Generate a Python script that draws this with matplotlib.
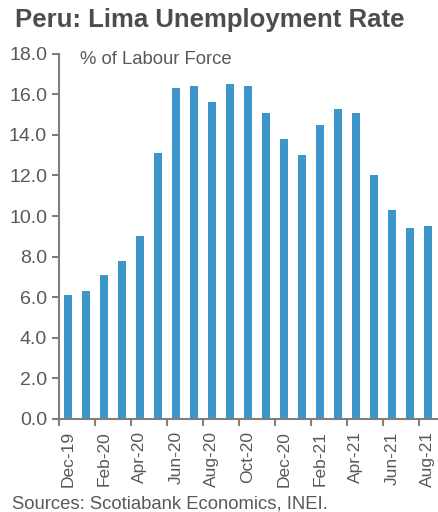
import numpy as np
import matplotlib.pyplot as plt

plt.rcParams['font.family'] = ['Liberation Sans', 'DejaVu Sans']

# Lima unemployment rate, % of labour force
months = ["Dec-19", "Jan-20", "Feb-20", "Mar-20", "Apr-20", "May-20", "Jun-20",
          "Jul-20", "Aug-20", "Sep-20", "Oct-20", "Nov-20", "Dec-20", "Jan-21",
          "Feb-21", "Mar-21", "Apr-21", "May-21", "Jun-21", "Jul-21", "Aug-21"]
rate = [6.1, 6.3, 7.1, 7.8, 9.0, 13.1, 16.3, 16.4, 15.6, 16.5, 16.4, 15.1,
        13.8, 13.0, 14.5, 15.3, 15.1, 12.0, 10.3, 9.4, 9.5]
yticks = [0, 2, 4, 6, 8, 10, 12, 14, 16, 18]

grey = "#595959"
fig = plt.figure(figsize=(4.39, 5.12), dpi=100)
ax = fig.add_axes([0.134, 0.182, 0.861, 0.713])

x = np.arange(len(months))
ax.bar(x, rate, width=0.45, color="#3d96c9")

ax.set_xlim(-0.5, len(months) - 0.5)
ax.set_ylim(0, 18)
ax.set_yticks(yticks)
ax.set_yticklabels([f"{v:.1f}" for v in yticks])

ax.set_xticks(x[::2])
ax.set_xticklabels(months[::2], rotation=90)
ax.set_xticks(np.arange(-0.5, len(months), 2), minor=True)
ax.tick_params(axis="x", which="major", length=0, pad=9, labelsize=12.5, labelcolor=grey)
ax.tick_params(axis="x", which="minor", length=5, width=1.5, color="#7f7f7f")
ax.tick_params(axis="y", length=5, width=1.5, color="#7f7f7f", labelsize=14, labelcolor=grey)

for s in ["top", "right"]:
    ax.spines[s].set_visible(False)
for s in ["left", "bottom"]:
    ax.spines[s].set_color("#7f7f7f")
    ax.spines[s].set_linewidth(1.5)

ax.text(0.055, 0.985, "% of Labour Force", transform=ax.transAxes, fontsize=13.3,
        color=grey, va="center", ha="left")

fig.text(0.478, 0.961, "Peru: Lima Unemployment Rate", fontsize=18.5, fontweight="bold",
         color="#4d4d4d", ha="center", va="center")
fig.text(0.027, 0.016, "Sources: Scotiabank Economics, INEI.", fontsize=13.3,
         color=grey, ha="left", va="center")

fig.savefig("out.png", dpi=100)
